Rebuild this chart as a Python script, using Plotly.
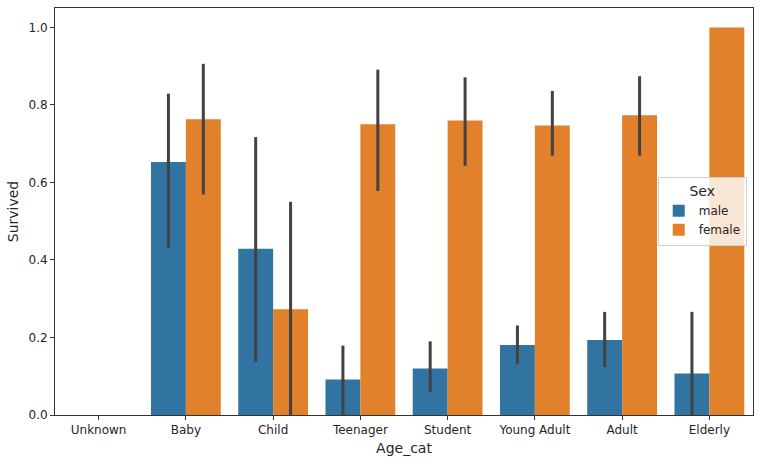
import plotly.graph_objects as go

categories = ["Unknown", "Baby", "Child", "Teenager", "Student", "Young Adult", "Adult", "Elderly"]
male_mean = [None, 0.653, 0.4286, 0.0914, 0.1197, 0.1806, 0.1935, 0.107]
male_lo = [None, 0.430, 0.137, 0.0, 0.0597, 0.131, 0.124, 0.0]
male_hi = [None, 0.829, 0.717, 0.179, 0.190, 0.231, 0.266, 0.266]
female_mean = [None, 0.763, 0.273, 0.750, 0.760, 0.747, 0.773, 1.0]
female_lo = [None, 0.569, 0.0, 0.578, 0.643, 0.669, 0.669, 1.0]
female_hi = [None, 0.906, 0.550, 0.891, 0.871, 0.836, 0.874, 1.0]


def err(mean, lo, hi):
    plus = [None if m is None else h - m for m, h in zip(mean, hi)]
    minus = [None if m is None else m - l for m, l in zip(mean, lo)]
    return plus, minus


fig = go.Figure()
for name, mean, lo, hi, color in [
    ("male", male_mean, male_lo, male_hi, "#3274a1"),
    ("female", female_mean, female_lo, female_hi, "#e1812c"),
]:
    plus, minus = err(mean, lo, hi)
    fig.add_trace(go.Bar(
        x=categories, y=mean, name=name,
        marker=dict(color=color, line=dict(width=0)),
        error_y=dict(type="data", symmetric=False, array=plus, arrayminus=minus,
                     color="#424242", thickness=3, width=0),
    ))

axis_common = dict(showline=True, linecolor="#333333", linewidth=1, mirror=True,
                   ticks="outside", ticklen=4, tickcolor="#333333", showgrid=False,
                   zeroline=False, automargin=False,
                   tickfont=dict(family="DejaVu Sans", size=12, color="#262626"))

fig.update_layout(
    width=764, height=467,
    margin=dict(l=55, r=11, t=8, b=52),
    paper_bgcolor="white", plot_bgcolor="white",
    barmode="group", bargap=0.2, bargroupgap=0,
    font=dict(family="DejaVu Sans", size=12, color="#262626"),
    xaxis=dict(title=dict(text="Age_cat", standoff=6), range=[-0.5, 7.5], **axis_common),
    yaxis=dict(title=dict(text="Survived", standoff=6), range=[0, 1.05],
               tickvals=[0, 0.2, 0.4, 0.6, 0.8, 1.0], tickformat=".1f", **axis_common),
    legend=dict(title=dict(text="Sex", side="top center"),
                x=0.991, xanchor="right", y=0.5, yanchor="middle",
                itemwidth=30,
                bgcolor="rgba(255,255,255,0.8)", bordercolor="#d0d0d0", borderwidth=1,
                font=dict(size=12)),
    showlegend=True,
)

fig.write_html("out.html", config={"displayModeBar": False},
               post_script="document.body.style.margin='0';")
